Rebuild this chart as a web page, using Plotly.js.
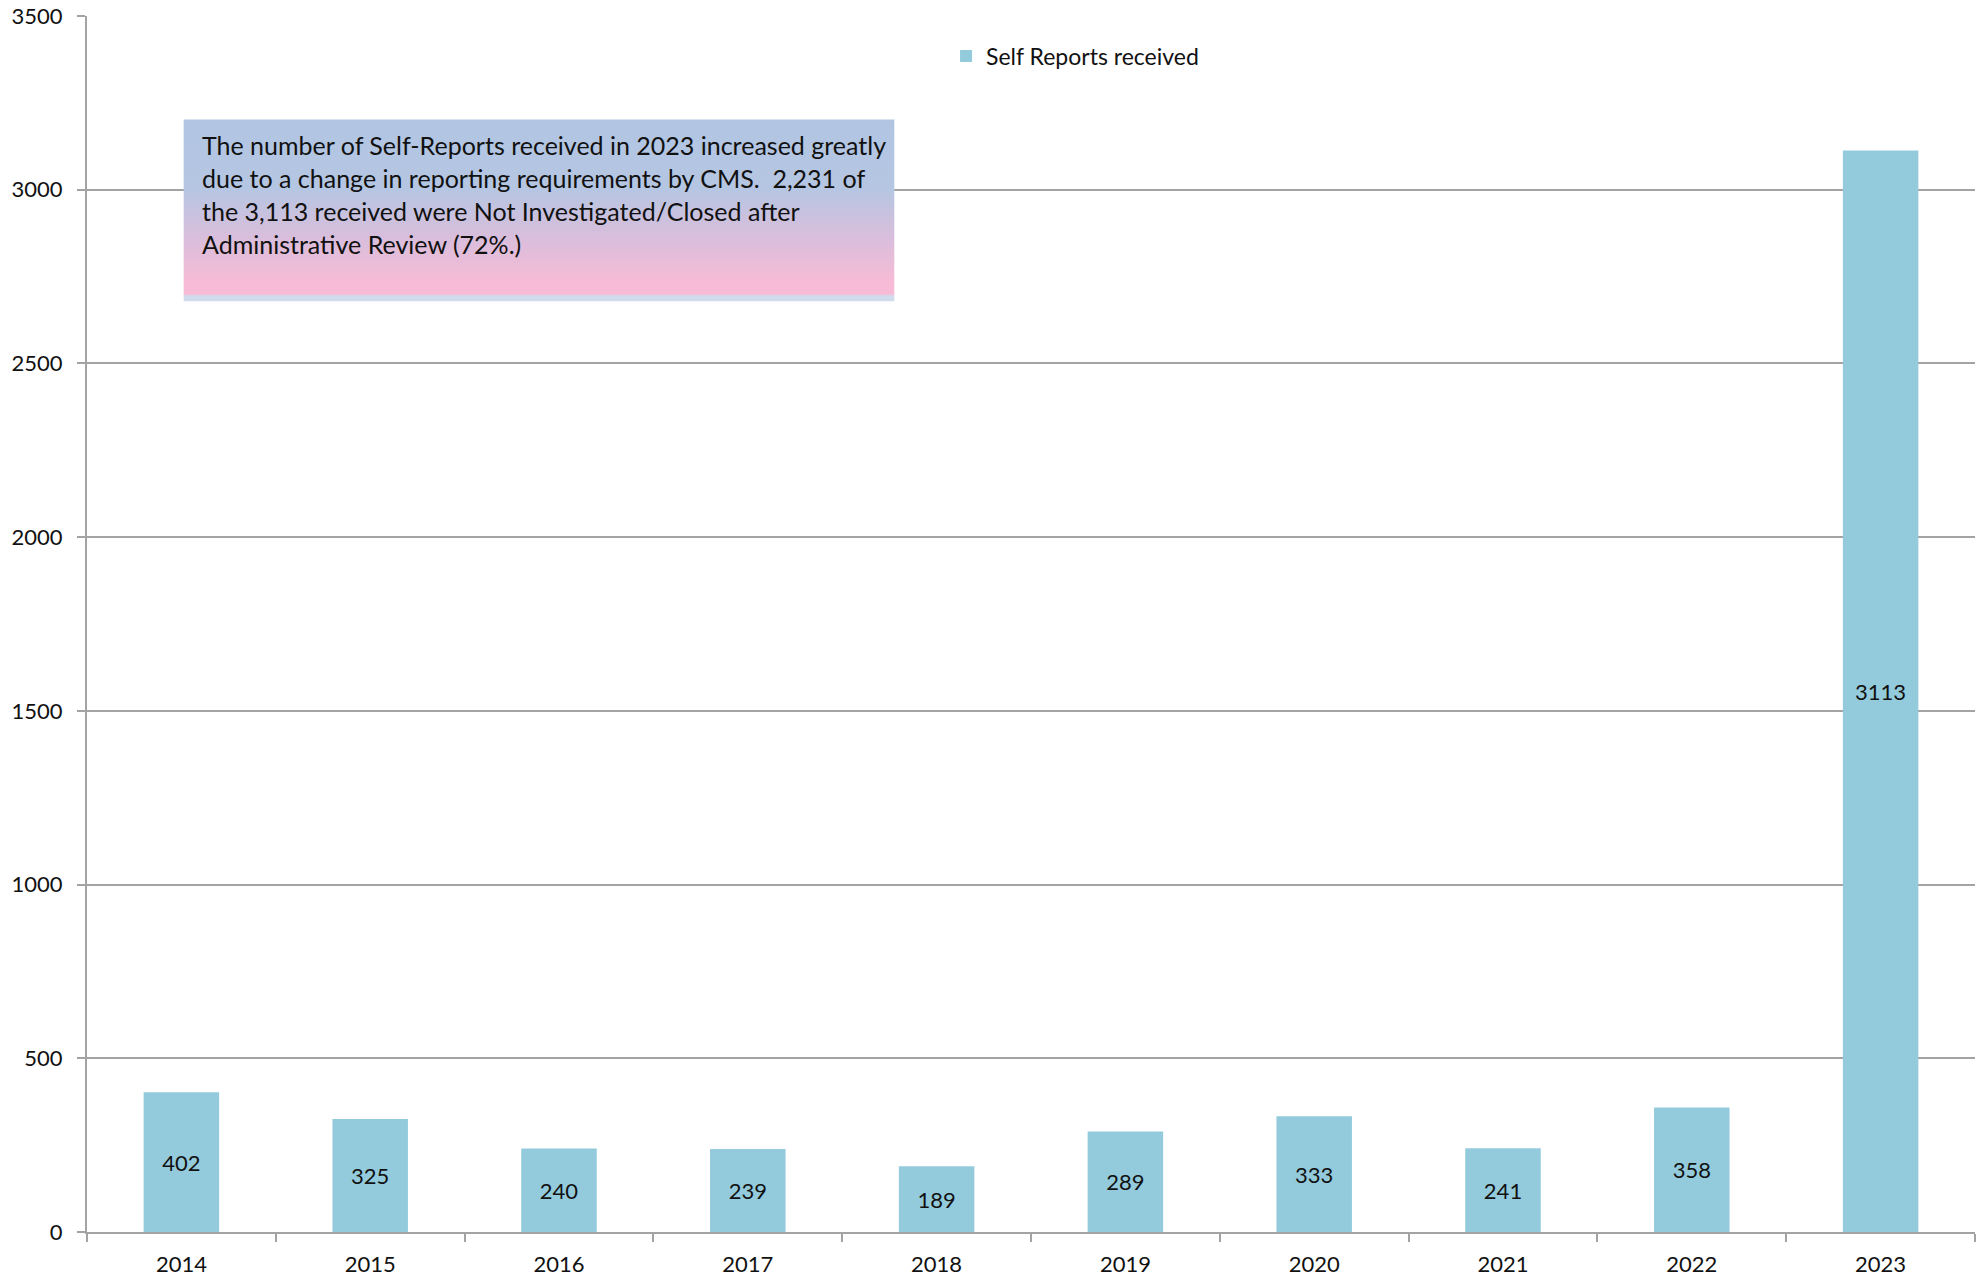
<!DOCTYPE html>
<html>
<head>
<meta charset="utf-8">
<script src="https://cdn.plot.ly/plotly-3.0.1.min.js"></script>
<style>html,body{margin:0;padding:0;background:#fff;}#chart{width:1986px;height:1278px;}</style>
</head>
<body>
<div id="chart"></div>
<script>
const years = ["2014","2015","2016","2017","2018","2019","2020","2021","2022","2023"];
const selfReports = [402, 325, 240, 239, 189, 289, 333, 241, 358, 3113];
const seriesName = "Self Reports received";
const noteLines = [
  "The number of Self-Reports received in 2023 increased greatly",
  "due to a change in reporting requirements by CMS.  2,231 of",
  "the 3,113 received were Not Investigated/Closed after",
  "Administrative Review (72%.)"
];
const yTicks = [0, 500, 1000, 1500, 2000, 2500, 3000, 3500];

const FONT = "Lato, 'Open Sans', sans-serif";
const GRID = "#a3a3a3";

// note box (fractions of plot area)
const bx0 = 0.0512, bx1 = 0.4276, by0 = 0.7654, by1 = 0.9148;

const traces = [
  {
    type: "bar",
    x: years,
    y: selfReports,
    name: seriesName,
    marker: {color: "#93cbdc"},
    text: selfReports.map(String),
    textposition: "inside",
    insidetextanchor: "middle",
    textangle: 0,
    constraintext: "none",
    textfont: {family: FONT, size: 22, color: "#111"},
    hoverinfo: "x+y"
  },
  {
    type: "scatter",
    mode: "lines",
    x: [bx0, bx1, bx1, bx0, bx0],
    y: [by0, by0, by1, by1, by0],
    xaxis: "x2",
    yaxis: "y2",
    fill: "toself",
    line: {width: 0},
    fillgradient: {
      type: "vertical",
      start: by0,
      stop: by1,
      colorscale: [
        [0, "#d0dcec"],
        [0.03, "#d0dcec"],
        [0.04, "#f8bbd5"],
        [0.09, "#f8bbd5"],
        [0.35, "#d9bedc"],
        [0.62, "#b5c6e2"],
        [1, "#b1c5e2"]
      ]
    },
    showlegend: false,
    hoverinfo: "skip"
  }
];

const lineY = [0.8937, 0.8665, 0.8394, 0.8122];
const annotations = noteLines.map((t, i) => ({
  xref: "paper", yref: "paper",
  x: 0.0598, y: lineY[i],
  xanchor: "left", yanchor: "middle",
  text: t, showarrow: false,
  font: {family: FONT, size: 25, color: "#111"}
}));

const layout = {
  width: 1986,
  height: 1278,
  paper_bgcolor: "#ffffff",
  plot_bgcolor: "#ffffff",
  margin: {l: 87, r: 11, t: 16, b: 46, pad: 0},
  font: {family: FONT, size: 22, color: "#111"},
  bargap: 0.6,
  showlegend: true,
  legend: {
    orientation: "h",
    x: 0.455, xanchor: "left",
    y: 0.967, yanchor: "middle",
    bgcolor: "rgba(0,0,0,0)",
    font: {family: FONT, size: 23, color: "#111"}
  },
  xaxis: {
    type: "category",
    showline: true, linecolor: GRID, linewidth: 2,
    ticks: "outside", tickson: "boundaries", ticklen: 8, tickcolor: GRID, tickwidth: 2,
    showgrid: false, zeroline: false,
    tickfont: {family: FONT, size: 22, color: "#111"},
    ticklabelstandoff: 12,
    automargin: false,
    fixedrange: true
  },
  yaxis: {
    range: [0, 3500],
    tickvals: yTicks,
    ticktext: yTicks.map(String),
    showline: true, linecolor: GRID, linewidth: 2,
    ticks: "outside", ticklen: 8, tickcolor: GRID, tickwidth: 2,
    showgrid: true, gridcolor: GRID, gridwidth: 2,
    zeroline: false,
    tickfont: {family: FONT, size: 22, color: "#111"},
    ticklabelstandoff: 10,
    automargin: false,
    fixedrange: true
  },
  xaxis2: {overlaying: "x", range: [0, 1], visible: false, fixedrange: true},
  yaxis2: {overlaying: "y", range: [0, 1], visible: false, fixedrange: true},
  annotations: annotations
};

Plotly.newPlot("chart", traces, layout, {displayModeBar: false, staticPlot: true});
</script>
</body>
</html>
